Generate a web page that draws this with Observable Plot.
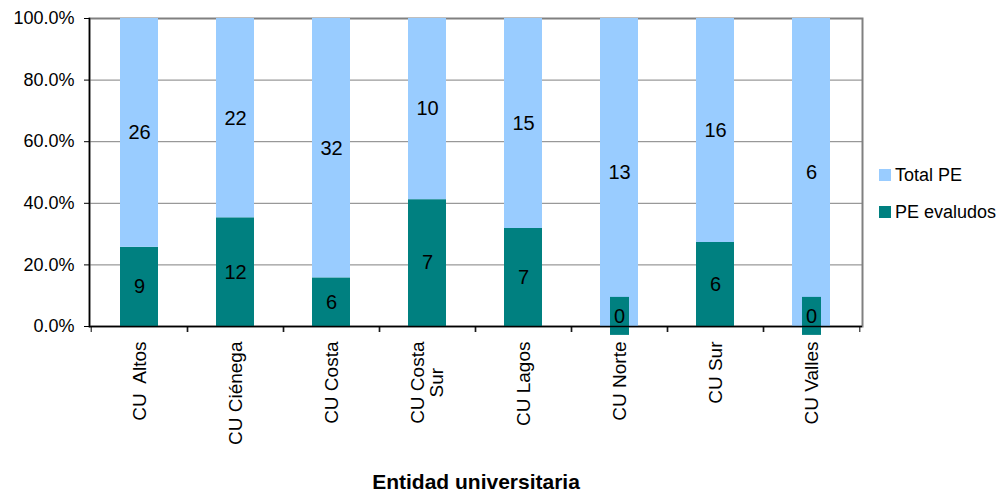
<!DOCTYPE html>
<html>
<head>
<meta charset="utf-8">
<script src="https://cdn.jsdelivr.net/npm/d3@7"></script>
<script src="https://cdn.jsdelivr.net/npm/@observablehq/plot@0.6"></script>
<style>
  body { margin: 0; background: #fff; font-family: "Liberation Sans", Arial, sans-serif; }
  #wrap { position: relative; width: 1002px; height: 492px; }
  .legend { position: absolute; left: 879px; font-size: 18px; color: #000; }
  .legend .item { display: flex; align-items: center; height: 24px; }
  .legend .sw { width: 12px; height: 12px; margin-right: 4px; }
</style>
</head>
<body>
<div id="wrap"></div>
<script>
const categories = ["CU  Altos", "CU Ciénega", "CU Costa", "CU Costa\nSur", "CU Lagos", "CU Norte", "CU Sur", "CU Valles"];
const peEvaluados = [9, 12, 6, 7, 7, 0, 6, 0];
const totalPE = [26, 22, 32, 10, 15, 13, 16, 6];
const seriesNames = ["PE evaludos", "Total PE"];
const seriesColors = ["#008080", "#99CCFF"];
const yTicks = [0, 0.2, 0.4, 0.6, 0.8, 1.0];

const data = [];
categories.forEach((c, i) => {
  data.push({cat: c, series: seriesNames[0], value: peEvaluados[i]});
  data.push({cat: c, series: seriesNames[1], value: totalPE[i]});
});

const W = 1002, H = 492;
const mL = 89, mR = 140, mT = 18, mB = 166;
const step = (W - mL - mR) / categories.length;
const font = '"Liberation Sans", Arial, sans-serif';

const stackOpts = {x: "cat", y: "value", z: "series", offset: "normalize"};

const plot = Plot.plot({
  width: W, height: H,
  marginLeft: mL, marginRight: mR, marginTop: mT, marginBottom: mB,
  style: {fontFamily: font, fontSize: "18px", color: "#000", background: "#fff"},
  x: {domain: categories, paddingInner: 0.6, paddingOuter: 0.3, label: null},
  y: {domain: [0, 1], label: null},
  color: {domain: seriesNames, range: seriesColors},
  marks: [
    Plot.frame({stroke: "#808080", strokeWidth: 2}),
    Plot.gridY(yTicks, {stroke: "#808080", strokeOpacity: 1, strokeWidth: 1}),
    Plot.barY(data, Plot.stackY({...stackOpts, fill: "series"})),
    Plot.text(data, Plot.stackY({...stackOpts, text: d => d.value > 0 ? String(d.value) : null, fontSize: 20, fill: "#000"})),
    Plot.text(data, Plot.stackY({...stackOpts, text: d => d.value === 0 ? "0" : null, fontSize: 20, fill: "#000", dy: -10, className: "zero-lbl"})),
    Plot.axisY(yTicks, {tickFormat: d3.format(".1%"), tickSize: 5, tickPadding: 10, fontSize: 18, stroke: "#000", label: null}),
    Plot.ruleY([0], {stroke: "#000", strokeWidth: 1.5}),
    Plot.frame({anchor: "left", stroke: "#000", strokeWidth: 1.5}),
    Plot.axisX({tickSize: 6, tickFormat: () => "", dx: step / 2, stroke: "#000", label: null}),
    Plot.axisX({tickSize: 6, tickFormat: () => "", dx: -step / 2, stroke: "#000", label: null}),
    Plot.axisX({tickSize: 0, tickPadding: 15, tickRotate: -90, fontSize: 19, label: "Entidad universitaria", labelAnchor: "center", labelOffset: 162, labelArrow: "none"})
  ]
});

const wrap = document.getElementById("wrap");
wrap.appendChild(plot);

// legend
const legend = document.createElement("div");
legend.className = "legend";
legend.style.top = "163px";
[1, 0].forEach((k, j) => {
  const it = document.createElement("div");
  it.className = "item";
  if (j === 1) it.style.marginTop = "13px";
  const sw = document.createElement("span");
  sw.className = "sw";
  sw.style.background = seriesColors[k];
  const tx = document.createElement("span");
  tx.textContent = seriesNames[k];
  it.appendChild(sw); it.appendChild(tx);
  legend.appendChild(it);
});
wrap.appendChild(legend);

// x-axis label bold
const xl = plot.querySelector('[aria-label="x-axis label"]');
if (xl) { xl.style.fontWeight = "bold"; xl.style.fontSize = "21px"; }

// center multi-line tick labels along their length
plot.querySelectorAll('[aria-label="x-axis tick label"] text').forEach(t => {
  const ts = t.querySelectorAll("tspan");
  if (ts.length > 1) {
    const ws = Array.from(ts).map(s => s.getComputedTextLength());
    const mx = Math.max(...ws);
    ts.forEach((s, i) => s.setAttribute("x", -(mx - ws[i]) / 2));
  }
});

// teal background boxes behind zero labels
plot.querySelectorAll('.zero-lbl text').forEach(t => {
  const bb = t.getBBox();
  const r = document.createElementNS("http://www.w3.org/2000/svg", "rect");
  const cx = bb.x + bb.width / 2, cy = bb.y + bb.height / 2;
  r.setAttribute("x", cx - 9.5); r.setAttribute("width", 19);
  r.setAttribute("y", cy - 19); r.setAttribute("height", 38);
  r.setAttribute("fill", seriesColors[0]);
  const tr = t.getAttribute("transform");
  if (tr) r.setAttribute("transform", tr);
  t.parentNode.insertBefore(r, t);
});
</script>
</body>
</html>
